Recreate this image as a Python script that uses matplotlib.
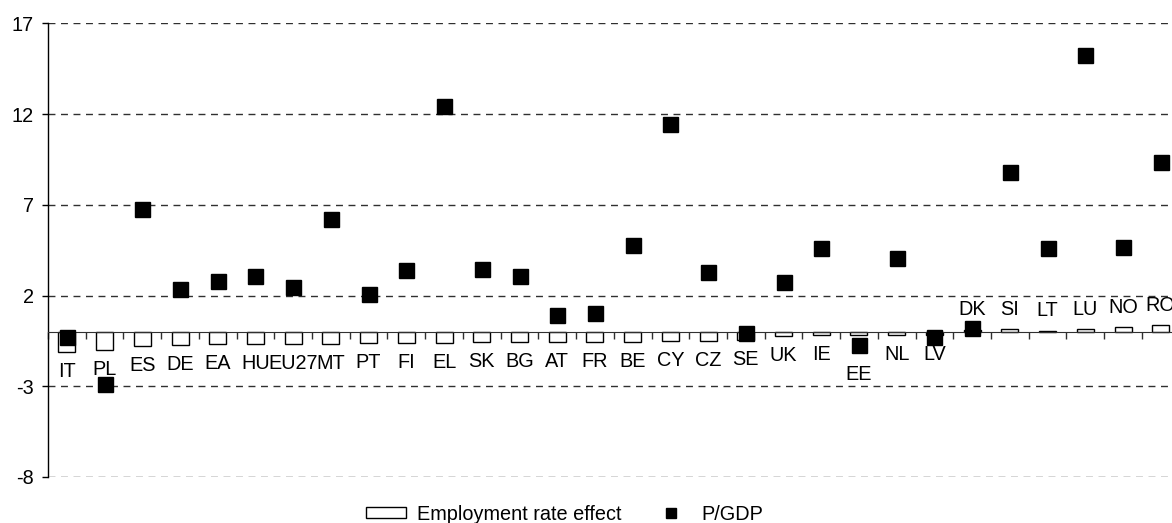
import numpy as np
import matplotlib
matplotlib.use("Agg")
import matplotlib.pyplot as plt
from matplotlib.patches import Patch
from matplotlib.lines import Line2D

plt.rcParams['font.family'] = ['Liberation Sans', 'DejaVu Sans']

countries = ["IT", "PL", "ES", "DE", "EA", "HU", "EU27", "MT", "PT", "FI",
             "EL", "SK", "BG", "AT", "FR", "BE", "CY", "CZ", "SE", "UK",
             "IE", "EE", "NL", "LV", "DK", "SI", "LT", "LU", "NO", "RO"]

# employment rate effect (bars)
employment = [-1.1, -1.0, -0.8, -0.75, -0.68, -0.68, -0.68, -0.68, -0.63, -0.62,
              -0.62, -0.55, -0.55, -0.55, -0.55, -0.55, -0.48, -0.48, -0.45, -0.22,
              -0.2, -0.2, -0.2, -0.15, 0.08, 0.15, 0.03, 0.13, 0.28, 0.37]

# P/GDP (markers)
p_gdp = [-0.26, -2.85, 6.74, 2.38, 2.80, 3.06, 2.47, 6.24, 2.11, 3.38,
         12.45, 3.45, 3.05, 0.94, 1.03, 4.79, 11.44, 3.27, -0.07, 2.77,
         4.63, -0.72, 4.04, -0.29, 0.20, 8.83, 4.63, 15.28, 4.70, 9.33]

yticks = [-8, -3, 2, 7, 12, 17]
fs = 14.3

fig = plt.figure(figsize=(11.72, 5.23), dpi=100)
ax = fig.add_axes([48 / 1172, 1 - 477 / 523, 1131.6 / 1172, (477 - 23.3) / 523])

x = np.arange(len(countries))
ax.bar(x, employment, width=0.45, color="white", edgecolor="black", linewidth=1.0, zorder=2)
ax.plot(x, p_gdp, linestyle="none", marker="s", markersize=10.8, color="black", zorder=3)

ax.set_xlim(-0.5, len(countries) - 0.5)
ax.set_ylim(-8, 17)
ax.set_yticks(yticks)
ax.set_yticklabels([str(t) for t in yticks], fontsize=fs)
ax.tick_params(axis="y", direction="out", length=4, width=1, pad=6)

for t in yticks:
    ax.axhline(t, color="#303030", linewidth=1.0, dashes=(5, 4), zorder=1)

ax.spines["top"].set_visible(False)
ax.spines["right"].set_visible(False)
ax.spines["bottom"].set_position(("data", 0))
ax.spines["bottom"].set_color("#303030")
ax.spines["bottom"].set_zorder(2.5)
ax.spines["left"].set_linewidth(1.0)
ax.set_xticks(np.arange(-0.5, len(countries), 1))
ax.set_xticklabels([])
ax.tick_params(axis="x", direction="out", length=5, width=1, color="#303030")

# category labels sit just beyond the end of each bar
label_shift = {"EE": -20}
for i, (c, v) in enumerate(zip(countries, employment)):
    off = 19.5 if v > 0.05 else -19.5
    off += label_shift.get(c, 0)
    if c in ("DK", "LT"):
        off = 21
    ax.annotate(c, (i, v), xytext=(0, off), textcoords="offset pixels",
                ha="center", va="center", fontsize=fs, zorder=4)

handles = [Patch(facecolor="white", edgecolor="black", linewidth=1.0),
           Line2D([], [], linestyle="none", marker="s", markersize=7, color="black")]
fig.legend(handles, ["Employment rate effect", "P/GDP"], loc="center",
           bbox_to_anchor=(0.482, 1 - 514 / 523), ncol=2, frameon=False,
           fontsize=fs, handlelength=2.0, handleheight=0.5,
           handletextpad=0.55, columnspacing=1.5)

fig.savefig("out.png", dpi=100)
